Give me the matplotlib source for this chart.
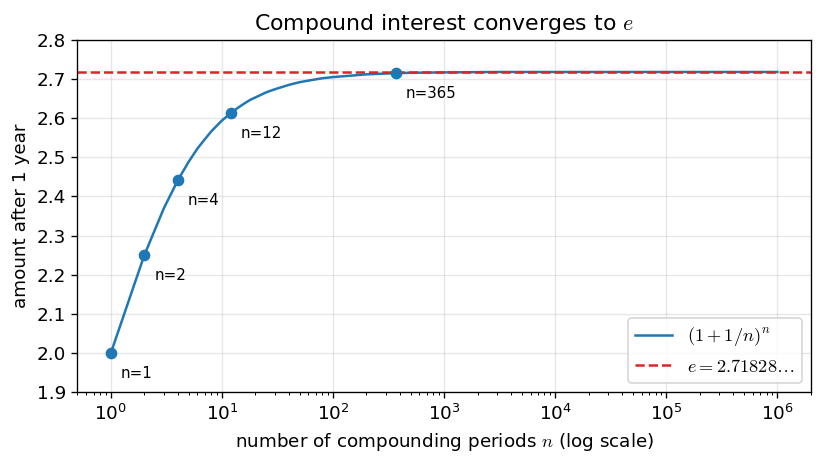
import numpy as np
import matplotlib
matplotlib.use("Agg")
import matplotlib.pyplot as plt

plt.rcParams['mathtext.fontset'] = 'cm'
plt.rcParams['font.size'] = 11

# curve values
n_vals = [1, 2, 3, 4, 5, 6, 7, 8, 9, 10, 12, 14, 16, 18, 20, 25, 30, 40, 50,
          60, 80, 100, 150, 200, 365, 500, 1000, 3000, 10000, 100000, 1000000]
amount = [2.000, 2.250, 2.370, 2.441, 2.488, 2.522, 2.546, 2.566, 2.581, 2.594,
          2.613, 2.627, 2.638, 2.647, 2.653, 2.666, 2.674, 2.685, 2.692,
          2.696, 2.702, 2.705, 2.709, 2.712, 2.715, 2.716, 2.717, 2.718,
          2.718, 2.718, 2.718]

# highlighted points
mark_n = [1, 2, 4, 12, 365]
mark_amt = [2.000, 2.250, 2.441, 2.613, 2.715]
e_val = 2.71828

fig, ax = plt.subplots(figsize=(824/120, 464/120), dpi=120)

ax.plot(n_vals, amount, color='#1f77b4', lw=1.5, label=r'$(1+1/n)^n$')
ax.axhline(e_val, color='#d62728', ls='--', lw=1.5, label=r'$e = 2.71828\ldots$')
ax.plot(mark_n, mark_amt, 'o', color='#1f77b4', ms=6)
for n, a in zip(mark_n, mark_amt):
    ax.annotate(f'n={n}', (n, a), textcoords='offset points', xytext=(6, -15),
                fontsize=9)

ax.set_xscale('log')
ax.set_xlim(0.5, 2e6)
ax.set_ylim(1.9, 2.8)
ax.set_yticks(np.arange(1.9, 2.81, 0.1))
ax.grid(True, alpha=0.3)
ax.set_title(r'Compound interest converges to $e$')
ax.set_xlabel(r'number of compounding periods $n$ (log scale)')
ax.set_ylabel('amount after 1 year')
ax.legend(loc='lower right')

fig.subplots_adjust(left=0.094, right=0.984, top=0.914, bottom=0.155)
fig.savefig('out.png', dpi=120)
